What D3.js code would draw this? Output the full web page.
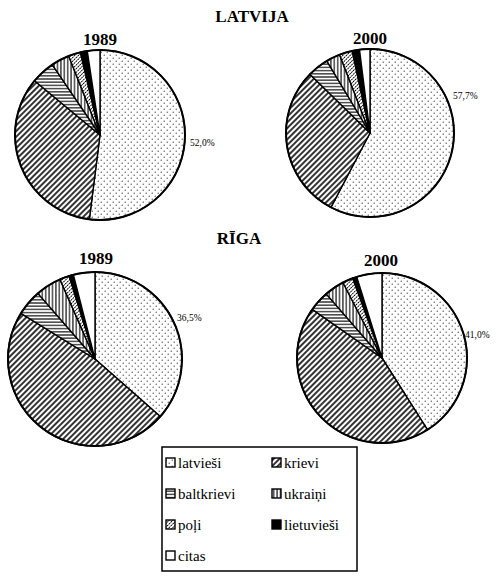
<!DOCTYPE html>
<html>
<head>
<meta charset="utf-8">
<script src="https://cdn.jsdelivr.net/npm/d3@7"></script>
<style>
  html, body { margin: 0; padding: 0; background: #fff; }
  svg { display: block; }
</style>
</head>
<body>
<svg id="chart" width="500" height="577"></svg>
<script>
// ---- data ----
const categories = ["latvieši", "krievi", "baltkrievi", "ukraiņi", "poļi", "lietuvieši", "citas"];
const latvija1989 = [52.0, 34.0, 4.5, 3.5, 2.3, 1.3, 2.4];
const latvija2000 = [57.7, 29.6, 4.1, 2.7, 2.5, 1.4, 2.0];
const riga1989 = [36.5, 47.3, 4.8, 4.8, 1.8, 0.8, 4.0];
const riga2000 = [41.0, 43.7, 3.9, 3.8, 2.0, 0.8, 4.8];
const groupTitles = ["LATVIJA", "RĪGA"];
const years = ["1989", "2000"];
const shownLabels = ["52,0%", "57,7%", "36,5%", "41,0%"];

// ---- drawing ----
const FONT = "'Liberation Serif', 'DejaVu Serif', 'Times New Roman', serif";
const svg = d3.select("#chart");
const defs = svg.append("defs");

function linePattern(id, size, angle, sw, dash) {
  const p = defs.append("pattern").attr("id", id).attr("patternUnits", "userSpaceOnUse")
    .attr("width", size).attr("height", size);
  if (angle) p.attr("patternTransform", `rotate(${angle})`);
  p.append("rect").attr("width", size).attr("height", size).attr("fill", "#fff");
  const l = p.append("line").attr("x1", size / 2).attr("y1", 0).attr("x2", size / 2).attr("y2", size)
    .attr("stroke", "#000").attr("stroke-width", sw);
  if (dash) l.attr("stroke-dasharray", dash);
}
// dots
const dp = defs.append("pattern").attr("id", "p0").attr("patternUnits", "userSpaceOnUse")
  .attr("width", 6).attr("height", 6);
dp.append("rect").attr("width", 6).attr("height", 6).attr("fill", "#fff");
dp.append("circle").attr("cx", 1.2).attr("cy", 1.2).attr("r", 0.6).attr("fill", "#222");
dp.append("circle").attr("cx", 4.2).attr("cy", 4.2).attr("r", 0.6).attr("fill", "#222");
linePattern("p1", 4.0, 45, 1.6);          // krievi ///
linePattern("p2", 3.2, 90, 1.1);          // baltkrievi horizontal
linePattern("p3", 3.4, 0, 1.1);           // ukraiņi vertical
linePattern("p4", 2.6, 45, 0.9, "2,1.3"); // poļi fine hatch

const fills = ["url(#p0)", "url(#p1)", "url(#p2)", "url(#p3)", "url(#p4)", "#000", "#fff"];
const color = d3.scaleOrdinal().domain(categories).range(fills);

const pie = d3.pie().sort(null).value(d => d.v);

const charts = [
  { data: latvija1989, cx: 100, cy: 135, r: 85, year: years[0], yx: 100, yy: 45, label: shownLabels[0], lx: 190, ly: 146 },
  { data: latvija2000, cx: 370, cy: 133, r: 84, year: years[1], yx: 370, yy: 44, label: shownLabels[1], lx: 453, ly: 99 },
  { data: riga1989, cx: 95, cy: 359, r: 87, year: years[0], yx: 96, yy: 264, label: shownLabels[2], lx: 177, ly: 321 },
  { data: riga2000, cx: 382, cy: 358, r: 85, year: years[1], yx: 381, yy: 266, label: shownLabels[3], lx: 465, ly: 338 }
];

function txt(sel) { return sel.append("text").attr("font-family", FONT).attr("fill", "#000"); }

txt(svg).attr("x", 252).attr("y", 22).attr("text-anchor", "middle")
  .attr("font-size", 17).attr("font-weight", "bold").text(groupTitles[0]);
txt(svg).attr("x", 239).attr("y", 244).attr("text-anchor", "middle")
  .attr("font-size", 17).attr("font-weight", "bold").text(groupTitles[1]);

charts.forEach(c => {
  const arc = d3.arc().innerRadius(0).outerRadius(c.r);
  const g = svg.append("g").attr("transform", `translate(${c.cx},${c.cy})`);
  const arcs = pie(c.data.map((v, i) => ({ k: categories[i], v })));
  g.selectAll("path").data(arcs).join("path")
    .attr("d", arc)
    .attr("fill", d => color(d.data.k))
    .attr("stroke", "#000").attr("stroke-width", 1.4).attr("stroke-linejoin", "round");
  g.append("circle").attr("r", c.r).attr("fill", "none").attr("stroke", "#000").attr("stroke-width", 2);
  txt(svg).attr("x", c.yx).attr("y", c.yy).attr("text-anchor", "middle")
    .attr("font-size", 17).attr("font-weight", "bold").text(c.year);
  txt(svg).attr("x", c.lx).attr("y", c.ly).attr("font-size", 9.5).text(c.label);
});

// ---- legend ----
const lg = svg.append("g");
lg.append("rect").attr("x", 162).attr("y", 447).attr("width", 195).attr("height", 124)
  .attr("fill", "#fff").attr("stroke", "#000").attr("stroke-width", 1.5);
const cols = [166, 272];
const rows = [463, 494, 525, 556];
categories.forEach((k, i) => {
  const x = cols[i % 2], y = rows[Math.floor(i / 2)];
  lg.append("rect").attr("x", x).attr("y", y - 5).attr("width", 9).attr("height", 9)
    .attr("fill", color(k)).attr("stroke", "#000").attr("stroke-width", 1.4);
  txt(lg).attr("x", x + 12).attr("y", y + 4.5).attr("font-size", 15).text(k);
});
</script>
</body>
</html>
